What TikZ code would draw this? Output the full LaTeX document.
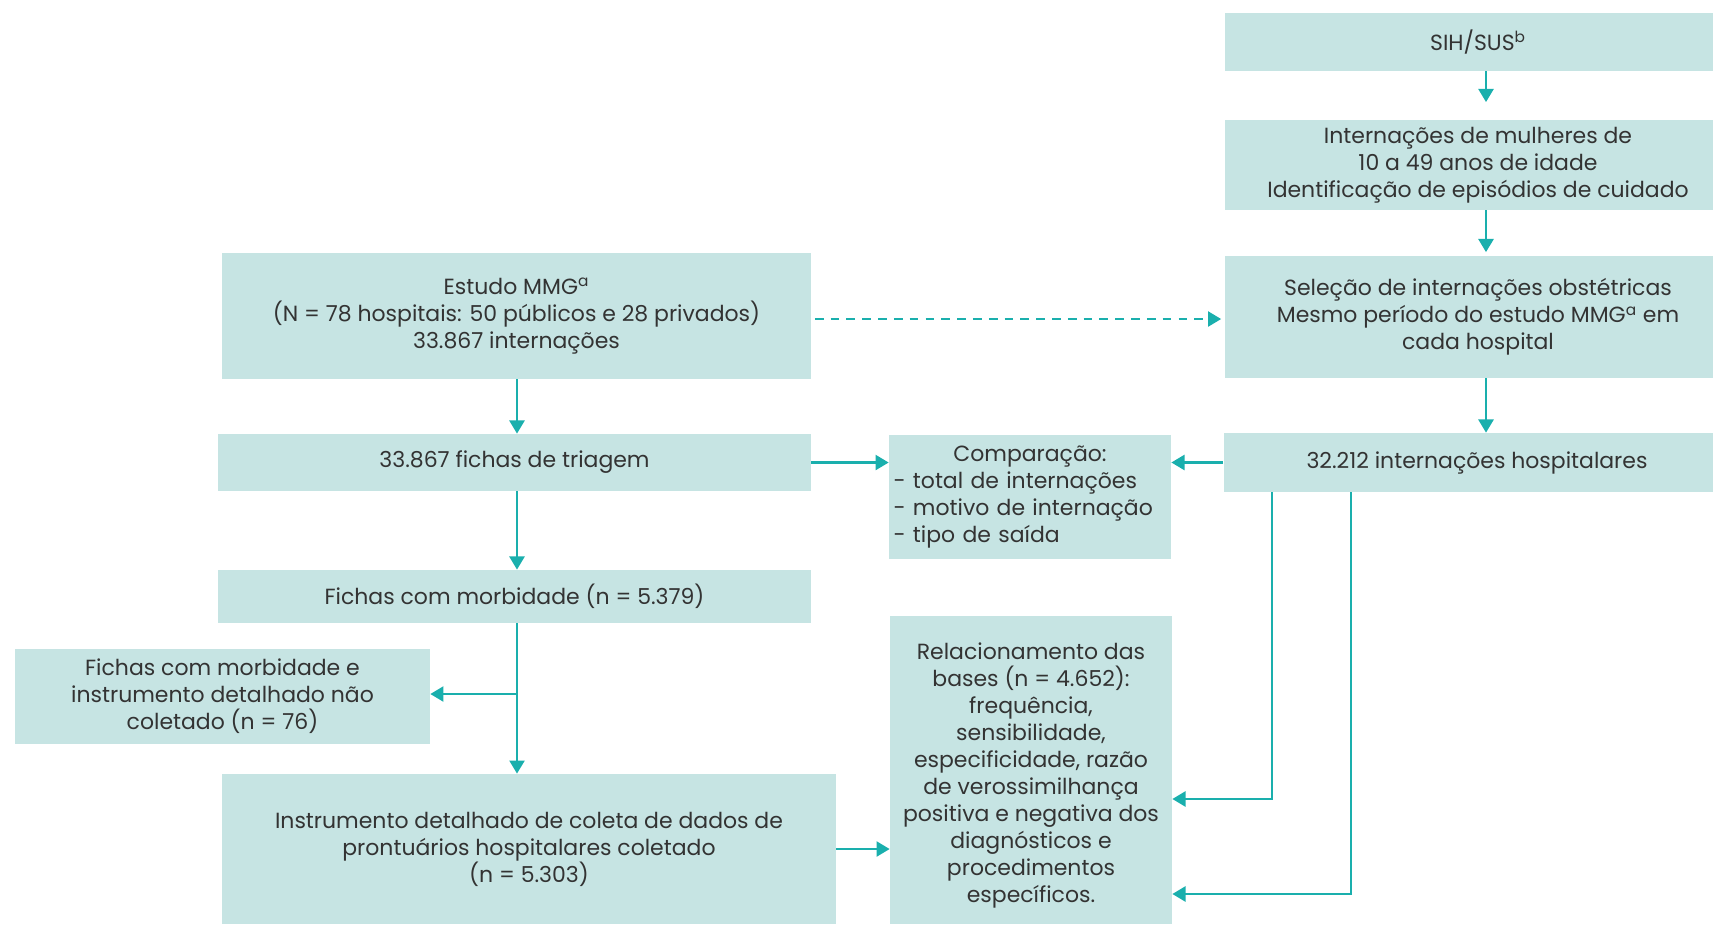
\documentclass[tikz,border=0pt]{standalone}
\usepackage{fontspec}
\setmainfont{Poppins}
\usetikzlibrary{arrows.meta}
\definecolor{boxfill}{HTML}{C6E4E3}
\definecolor{linecol}{HTML}{1AAFAD}
\definecolor{txtcol}{HTML}{333333}

\begin{document}
\begin{tikzpicture}[x=0.02cm,y=-0.02cm,
	box/.style={fill=boxfill,text=txtcol,align=center,inner sep=0pt,font=\fontsize{12.5}{15.4}\selectfont},
	arr/.style={linecol,line width=1.5pt,-{Triangle[width=8.5pt,length=7.5pt]}}]
	\clip (0,0) rectangle (1713,924);
	% right column (SIH/SUS)
	\node[box,minimum width=10.12cm,minimum height=1.16cm] (sih) at (1478,42) {SIH/SUS\textsuperscript{b}};
	\node[box,minimum width=10.12cm,minimum height=1.8cm] (intern) at (1478,165) {Internações de mulheres de\\10 a 49 anos de idade\\Identificação de episódios de cuidado};
	\node[box,minimum width=10.12cm,minimum height=2.44cm] (selec) at (1478,317) {Seleção de internações obstétricas\\Mesmo período do estudo MMG\textsuperscript{a} em\\cada hospital};
	\node[box,minimum width=10.14cm,minimum height=1.18cm] (hosp) at (1477,462.5) {32.212 internações hospitalares};
	% left column (MMG)
	\node[box,minimum width=11.78cm,minimum height=2.52cm] (mmg) at (516.5,316) {Estudo MMG\textsuperscript{a}\\(N = 78 hospitais: 50 públicos e 28 privados)\\33.867 internações};
	\node[box,minimum width=11.86cm,minimum height=1.14cm] (triag) at (514.5,462.5) {33.867 fichas de triagem};
	\node[box,minimum width=11.86cm,minimum height=1.06cm] (morb) at (514.5,596.5) {Fichas com morbidade (n = 5.379)};
	\node[box,minimum width=8.3cm,minimum height=1.9cm] (naocol) at (222.5,696.5) {Fichas com morbidade e\\instrumento detalhado não\\coletado (n = 76)};
	\node[box,minimum width=12.28cm,minimum height=3cm] (instr) at (529,849) {Instrumento detalhado de coleta de dados de\\prontuários hospitalares coletado\\(n = 5.303)};
	% middle
	\node[box,align=left,text width=5.46cm,inner xsep=0.09cm,minimum height=2.48cm] (comp) at (1030,497) {\makebox[5.46cm]{Comparação:}\\- total de internações\\- motivo de internação\\- tipo de saída};
	\node[box,minimum width=5.64cm,minimum height=6.16cm] (rel) at (1031,770) {\rule{0pt}{16pt}Relacionamento das\\bases (n = 4.652):\\frequência,\\sensibilidade,\\especificidade, razão\\de verossimilhança\\positiva e negativa dos\\diagnósticos e\\procedimentos\\específicos.};

	\coordinate (rx) at (1486,0);
	\coordinate (lx) at (517,0);
	\coordinate (dy) at (0,319);
	\coordinate (br) at (517,694);
	\coordinate (r1) at (1272,799);
	\coordinate (r2) at (1351,894);

	\draw[arr,shorten >=10pt] (sih.south -| rx) -- (intern.north -| rx);
	\draw[arr,shorten >=2pt] (intern.south -| rx) -- (selec.north -| rx);
	\draw[arr] (selec.south -| rx) -- (hosp.north -| rx);
	\draw[arr,dashed,dash pattern=on 5pt off 4pt,shorten <=2pt,shorten >=2pt] (mmg.east |- dy) -- (selec.west |- dy);
	\draw[arr] (mmg.south -| lx) -- (triag.north -| lx);
	\draw[arr] (triag.south -| lx) -- (morb.north -| lx);
	\draw[arr] (morb.south -| lx) -- (instr.north -| lx);
	\draw[arr] (br) -- (br -| naocol.east);
	\draw[arr] (triag.east) -- (triag.east -| comp.west);
	\draw[arr] (hosp.west) -- (hosp.west -| comp.east);
	\draw[arr] (instr.east) -- (instr.east -| rel.west);
	\draw[arr] (hosp.south -| r1) -- (r1) -- (r1 -| rel.east);
	\draw[arr] (hosp.south -| r2) -- (r2) -- (r2 -| rel.east);
\end{tikzpicture}
\end{document}
